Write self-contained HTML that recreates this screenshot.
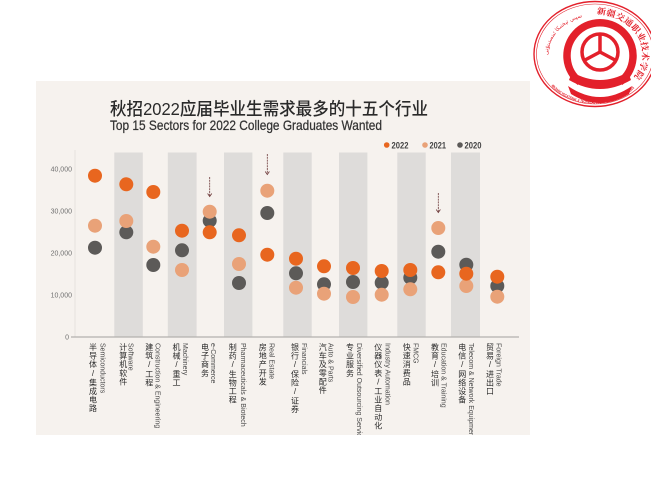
<!DOCTYPE html>
<html>
<head>
<meta charset="utf-8">
<style>
html,body{margin:0;padding:0;background:#fff;}
#wrap{position:relative;width:651px;height:488px;overflow:hidden;background:#fff;}
svg{position:absolute;left:0;top:0;}
#labels{position:absolute;left:0;top:0;width:651px;height:435px;overflow:hidden;}
.en{position:absolute;top:343px;writing-mode:vertical-rl;font-family:"Liberation Sans",sans-serif;font-size:7px;line-height:8px;color:#4a4a4a;white-space:nowrap;}
.zh{position:absolute;top:343px;writing-mode:vertical-rl;text-orientation:upright;font-family:"Liberation Sans","Noto Sans CJK SC",sans-serif;font-size:8px;line-height:9px;letter-spacing:0.6px;color:#2a2a2a;white-space:nowrap;}
</style>
</head>
<body>
<div id="wrap">
<svg width="651" height="488" viewBox="0 0 651 488" xmlns="http://www.w3.org/2000/svg">
  <rect x="36" y="81" width="494" height="354" fill="#f6f2ee"/>

  <text x="110" y="115" font-family="Liberation Sans, Noto Sans CJK SC, sans-serif" font-size="17.5" font-weight="500" fill="#2a2a2a" textLength="318" lengthAdjust="spacingAndGlyphs">秋招2022应届毕业生需求最多的十五个行业</text>
  <text x="110" y="130" font-family="Liberation Sans, sans-serif" font-size="14" fill="#333" stroke="#333" stroke-width="0.25" textLength="272" lengthAdjust="spacingAndGlyphs">Top 15 Sectors for 2022 College Graduates Wanted</text>

  <circle cx="386.7" cy="145" r="2.8" fill="#e8661f"/>
  <text x="391.5" y="148.3" font-family="Liberation Sans, sans-serif" font-size="9" font-weight="bold" fill="#444" textLength="17" lengthAdjust="spacingAndGlyphs">2022</text>
  <circle cx="425" cy="145" r="2.8" fill="#e9a278"/>
  <text x="429.5" y="148.3" font-family="Liberation Sans, sans-serif" font-size="9" font-weight="bold" fill="#444" textLength="16.5" lengthAdjust="spacingAndGlyphs">2021</text>
  <circle cx="460" cy="145" r="2.8" fill="#5c5a58"/>
  <text x="464.5" y="148.3" font-family="Liberation Sans, sans-serif" font-size="9" font-weight="bold" fill="#444" textLength="17" lengthAdjust="spacingAndGlyphs">2020</text>

  <g fill="#dedcda">
    <rect x="114.3" y="152.5" width="28.5" height="184.5"/>
    <rect x="167.8" y="152.5" width="28.8" height="184.5"/>
    <rect x="224" y="152.5" width="28.4" height="184.5"/>
    <rect x="283.3" y="152.5" width="28.4" height="184.5"/>
    <rect x="339" y="152.5" width="28.4" height="184.5"/>
    <rect x="397.3" y="152.5" width="28.4" height="184.5"/>
    <rect x="451" y="152.5" width="29" height="184.5"/>
  </g>

  <line x1="75" y1="150" x2="75" y2="337" stroke="#e2dfdb" stroke-width="0.8"/>
  <line x1="71" y1="337" x2="519" y2="337" stroke="#b3b1ae" stroke-width="1.2"/>
  <g font-family="Liberation Sans, sans-serif" font-size="7" fill="#707070" text-anchor="end">
    <text x="72" y="171.5">40,000</text>
    <text x="72" y="213.5">30,000</text>
    <text x="72" y="255.5">20,000</text>
    <text x="72" y="297.5">10,000</text>
    <text x="69" y="339.5">0</text>
  </g>

  <g fill="#5c5a58">
    <circle cx="95" cy="247.7" r="7"/>
    <circle cx="126.3" cy="232.3" r="7"/>
    <circle cx="153.3" cy="265" r="7"/>
    <circle cx="182" cy="250.3" r="7"/>
    <circle cx="209.7" cy="220.7" r="7"/>
    <circle cx="239" cy="283" r="7"/>
    <circle cx="267.3" cy="213" r="7"/>
    <circle cx="296" cy="273.3" r="7"/>
    <circle cx="324" cy="284.3" r="7"/>
    <circle cx="353" cy="282" r="7"/>
    <circle cx="381.7" cy="282.7" r="7"/>
    <circle cx="410.3" cy="277.7" r="7"/>
    <circle cx="438.3" cy="251.7" r="7"/>
    <circle cx="466.3" cy="264.7" r="7"/>
    <circle cx="497.3" cy="286" r="7"/>
  </g>
  <g fill="#e9a278">
    <circle cx="95" cy="225.7" r="7"/>
    <circle cx="126.3" cy="221" r="7"/>
    <circle cx="153.3" cy="246.7" r="7"/>
    <circle cx="182" cy="270" r="7"/>
    <circle cx="209.7" cy="211.7" r="7"/>
    <circle cx="239" cy="264" r="7"/>
    <circle cx="267.3" cy="190.7" r="7"/>
    <circle cx="296" cy="287.7" r="7"/>
    <circle cx="324" cy="293.7" r="7"/>
    <circle cx="353" cy="297" r="7"/>
    <circle cx="381.7" cy="294.7" r="7"/>
    <circle cx="410.3" cy="289.3" r="7"/>
    <circle cx="438.3" cy="228" r="7"/>
    <circle cx="466.3" cy="286" r="7"/>
    <circle cx="497.3" cy="296.7" r="7"/>
  </g>
  <g fill="#e8661f">
    <circle cx="95" cy="175.7" r="7"/>
    <circle cx="126.3" cy="184.3" r="7"/>
    <circle cx="153.3" cy="192" r="7"/>
    <circle cx="182" cy="230.7" r="7"/>
    <circle cx="209.7" cy="232.3" r="7"/>
    <circle cx="239" cy="235.3" r="7"/>
    <circle cx="267.3" cy="254.7" r="7"/>
    <circle cx="296" cy="258.7" r="7"/>
    <circle cx="324" cy="266.3" r="7"/>
    <circle cx="353" cy="268" r="7"/>
    <circle cx="381.7" cy="271" r="7"/>
    <circle cx="410.3" cy="270" r="7"/>
    <circle cx="438.3" cy="272.3" r="7"/>
    <circle cx="466.3" cy="273.7" r="7"/>
    <circle cx="497.3" cy="276.7" r="7"/>
  </g>

  <g stroke="#6e3a3a" stroke-width="0.8" fill="none" stroke-dasharray="2 0.8">
    <path d="M209.7 177 V196"/>
    <path d="M267.3 154 V174"/>
    <path d="M438.3 193 V212"/>
  </g>
  <g stroke="#6e3a3a" stroke-width="0.8" fill="none">
    <path d="M207.6 193.5 L209.7 196.5 L211.8 193.5"/>
    <path d="M265.2 171.5 L267.3 174.5 L269.4 171.5"/>
    <path d="M436.2 209.5 L438.3 212.5 L440.4 209.5"/>
  </g>

  <!-- logo -->
  <g>
    <ellipse cx="595" cy="54" rx="61" ry="52.5" fill="none" stroke="#e3202b" stroke-width="1.4"/>
    <ellipse cx="595" cy="54" rx="58.5" ry="50" fill="none" stroke="#e3202b" stroke-width="0.6"/>
    <defs>
      <path id="arcZh" d="M596.7 14 A48 40 0 0 1 636 74"/>
      <path id="arcEn" d="M551 86 A54 45 0 0 0 640 82"/>
      <path id="arcUy" d="M548 55 A47 40 0 0 1 583 17"/>
    </defs>
    <text font-family="Noto Serif CJK SC, Noto Sans CJK SC, serif" font-size="8.5" font-weight="bold" fill="#e3202b"><textPath href="#arcZh" textLength="92" lengthAdjust="spacingAndGlyphs">新疆交通职业技术学院</textPath></text>
    <text font-family="Liberation Sans, sans-serif" font-size="4" font-weight="bold" fill="#e3202b"><textPath href="#arcEn" textLength="92" lengthAdjust="spacingAndGlyphs">XINJIANG VOCATIONAL &amp; TECHNICAL COLLEGE OF COMMUNICATIONS</textPath></text>
    <text font-family="DejaVu Sans, sans-serif" font-size="5.5" fill="#e3202b"><textPath href="#arcUy">شىنجاڭ قاتناش كەسپىي تېخنىكا ئىنستىتۇتى</textPath></text>
    <path d="M580 82 A33 33 0 1 1 620 82" fill="none" stroke="#e3202b" stroke-width="7.5"/>
    <circle cx="600" cy="52" r="18" fill="none" stroke="#e3202b" stroke-width="3.5"/>
    <g stroke="#e3202b" stroke-width="3.5" stroke-linecap="round">
      <line x1="600" y1="52" x2="600" y2="35"/>
      <line x1="600" y1="52" x2="585" y2="60"/>
      <line x1="600" y1="52" x2="615" y2="60"/>
    </g>
    <path d="M572 72 Q600 88 628 72 L631 80 Q600 98 569 80 Z" fill="#e3202b"/>
    <path d="M568 86 Q600 108 632 86 L629 94 Q600 112 571 94 Z" fill="#e3202b"/>
  </g>
</svg>

<div id="labels">
  <div class="en" style="left:97.7px">Semiconductors</div>
  <div class="zh" style="left:88.5px">半导体/集成电路</div>

  <div class="en" style="left:125.7px">Software</div>
  <div class="zh" style="left:118.8px">计算机软件</div>

  <div class="en" style="left:152.7px">Construction &amp; Engineering</div>
  <div class="zh" style="left:144.7px">建筑/工程</div>

  <div class="en" style="left:179.8px">Machinery</div>
  <div class="zh" style="left:172px">机械/重工</div>

  <div class="en" style="left:207.8px">e-Commerce</div>
  <div class="zh" style="left:200.5px">电子商务</div>

  <div class="en" style="left:238px">Pharmaceuticals &amp; Biotech</div>
  <div class="zh" style="left:228.3px">制药/生物工程</div>

  <div class="en" style="left:266.5px">Real Estate</div>
  <div class="zh" style="left:258.3px">房地产开发</div>

  <div class="en" style="left:298.8px">Financials</div>
  <div class="zh" style="left:290.5px">银行/保险/证券</div>

  <div class="en" style="left:325.7px">Auto &amp; Parts</div>
  <div class="zh" style="left:318.2px">汽车及零配件</div>

  <div class="en" style="left:354px">Diversified Outsourcing Services</div>
  <div class="zh" style="left:345.5px">专业服务</div>

  <div class="en" style="left:382.7px">Industry Automation</div>
  <div class="zh" style="left:373.8px">仪器仪表/工业自动化</div>

  <div class="en" style="left:410.5px">FMCG</div>
  <div class="zh" style="left:402.2px">快速消费品</div>

  <div class="en" style="left:438.5px">Education &amp; Training</div>
  <div class="zh" style="left:430.5px">教育/培训</div>

  <div class="en" style="left:466px">Telecom &amp; Network Equipment</div>
  <div class="zh" style="left:457.8px">电信/网络设备</div>

  <div class="en" style="left:493.5px">Foreign Trade</div>
  <div class="zh" style="left:485.5px">贸易/进出口</div>
</div>
</div>
</body>
</html>
